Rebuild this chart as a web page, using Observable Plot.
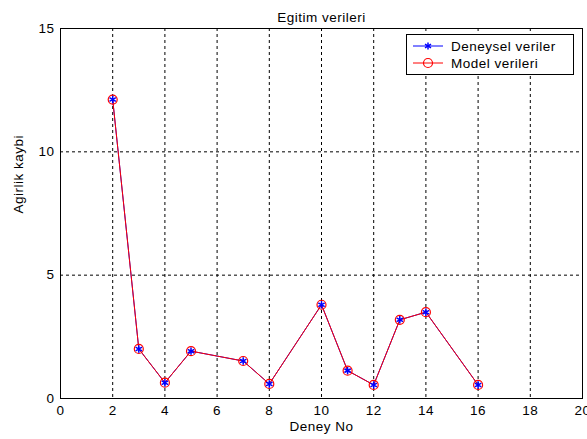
<!DOCTYPE html>
<html>
<head>
<meta charset="utf-8">
<script src="https://cdn.jsdelivr.net/npm/d3@7"></script>
<script src="https://cdn.jsdelivr.net/npm/@observablehq/plot@0.6"></script>
<style>
  body { margin: 0; background: white; }
  #wrap { position: relative; width: 587px; height: 439px; }
  #legend {
    position: absolute; left: 406px; top: 34px; width: 166px; height: 39px;
    border: 1px solid black; background: white;
    font-family: Arial, "Liberation Sans", sans-serif; font-size: 13.5px; letter-spacing: 0.5px;
  }
  .row { position: absolute; left: 0; height: 16px; display: flex; align-items: center; }
  .row svg { display: block; }
  .row span { margin-left: 8px; }
</style>
</head>
<body>
<div id="wrap"></div>
<script>
const deneyNo = [2, 3, 4, 5, 7, 8, 10, 11, 12, 13, 14, 16];
const deneysel = [12.12, 2.01, 0.64, 1.92, 1.52, 0.59, 3.80, 1.13, 0.55, 3.19, 3.50, 0.55];
const model    = [12.12, 2.01, 0.64, 1.92, 1.52, 0.59, 3.80, 1.13, 0.55, 3.19, 3.50, 0.55];
const xTicks = [0, 2, 4, 6, 8, 10, 12, 14, 16, 18, 20];
const yTicks = [0, 5, 10, 15];
const seriesNames = ["Deneysel veriler", "Model verileri"];
const seriesColors = ["blue", "red"];
const titleText = "Egitim verileri";
const xLabel = "Deney No";
const yLabel = "Agirlik kaybi";

const dataA = deneyNo.map((x, i) => ({x, y: deneysel[i]}));
const dataB = deneyNo.map((x, i) => ({x, y: model[i]}));

const chart = Plot.plot({
  width: 587, height: 439,
  marginLeft: 60, marginRight: 5, marginTop: 28, marginBottom: 41,
  style: {fontFamily: "Arial, 'Liberation Sans', sans-serif", fontSize: "13.5px", background: "white", color: "black", letterSpacing: "0.5px"},
  x: {domain: [0, 20], ticks: xTicks, label: null},
  y: {domain: [0, 15], ticks: yTicks, label: null},
  marks: [
    Plot.gridX(xTicks.slice(1, -1), {stroke: "black", strokeOpacity: 1, strokeDasharray: "3,3"}),
    Plot.gridY(yTicks.slice(1, -1), {stroke: "black", strokeOpacity: 1, strokeDasharray: "3,3"}),
    Plot.frame({stroke: "black", strokeWidth: 1}),
    Plot.axisX({ticks: xTicks, tickSize: 0, tickPadding: 7, label: null}),
    Plot.axisY({ticks: yTicks, tickSize: 0, tickPadding: 6, label: null}),
    Plot.line(dataA, {x: "x", y: "y", stroke: seriesColors[0], strokeWidth: 1}),
    Plot.line(dataB, {x: "x", y: "y", stroke: seriesColors[1], strokeWidth: 1}),
    Plot.dot(dataB, {x: "x", y: "y", stroke: seriesColors[1], r: 4.5, strokeWidth: 1.2}),
    Plot.dot(dataA, {x: "x", y: "y", stroke: seriesColors[0], symbol: "asterisk", r: 3.5, strokeWidth: 1.5}),
    Plot.text([titleText], {frameAnchor: "top", dy: -16, text: d => d, fontSize: 13.5}),
    Plot.text([xLabel], {frameAnchor: "bottom", dy: 32, text: d => d, fontSize: 13.5}),
    Plot.text([yLabel], {frameAnchor: "left", dx: -42, rotate: -90, text: d => d, fontSize: 13.5})
  ]
});
const wrap = document.getElementById("wrap");
wrap.appendChild(chart);

const legend = document.createElement("div");
legend.id = "legend";
seriesNames.forEach((name, i) => {
  const row = document.createElement("div");
  row.className = "row";
  row.style.top = (3 + i * 17) + "px";
  row.style.left = "6px";
  const sym = i === 0
    ? `<line x1="0" y1="8" x2="30" y2="8" stroke="blue"/><g stroke="blue" stroke-width="1.5"><line x1="15" y1="4.5" x2="15" y2="11.5"/><line x1="12" y1="6.2" x2="18" y2="9.8"/><line x1="12" y1="9.8" x2="18" y2="6.2"/></g>`
    : `<line x1="0" y1="8" x2="30" y2="8" stroke="red"/><circle cx="15" cy="8" r="4.5" fill="none" stroke="red" stroke-width="1.2"/>`;
  row.innerHTML = `<svg width="30" height="16">${sym}</svg><span>${name}</span>`;
  legend.appendChild(row);
});
wrap.appendChild(legend);
</script>
</body>
</html>
